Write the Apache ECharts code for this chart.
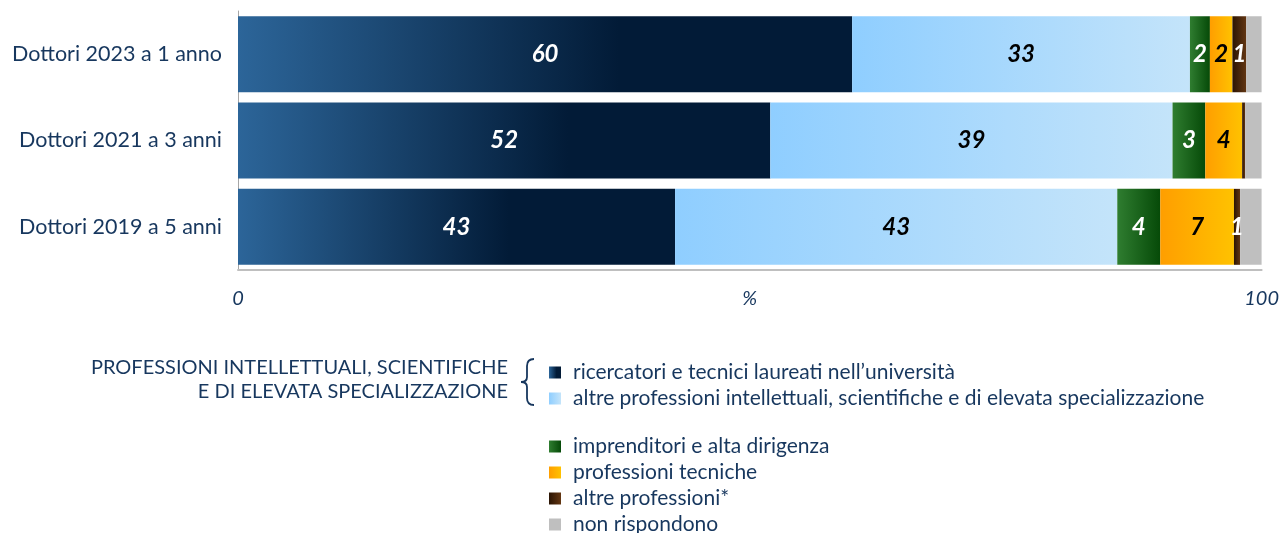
<!DOCTYPE html>
<html>
<head>
<meta charset="utf-8">
<script src="https://cdn.jsdelivr.net/npm/echarts@6/dist/echarts.min.js"></script>
<style>
  html, body { margin: 0; padding: 0; background: #fff; }
  #chart { width: 1282px; height: 533px; }
</style>
</head>
<body>
<div id="chart"></div>
<script>
  // categories, top to bottom
  const categories = ['Dottori 2023 a 1 anno', 'Dottori 2021 a 3 anni', 'Dottori 2019 a 5 anni'];
  // percentages per series
  const ricercatori = [60.0, 52.0, 42.7];
  const altreIntellettuali = [33.0, 39.3, 43.2];
  const imprenditori = [1.95, 3.2, 4.2];
  const tecniche = [2.2, 3.6, 7.2];
  const altreProfessioni = [1.35, 0.3, 0.6];
  const nonRispondono = [1.5, 1.6, 2.1];
  const xTicks = [0, 100];

  const navy = '#17375E';
  const font = 'Lato, "Open Sans", sans-serif';

  const grad = (stops) => new echarts.graphic.LinearGradient(0, 0, 1, 0,
    stops.map((c, i) => typeof c === 'string' ? { offset: i / (stops.length - 1), color: c } : c));

  const labelFmt = p => {
    const r = Math.round(p.value);
    return r >= 1 ? String(r) : '';
  };
  const lab = color => ({
    show: true,
    position: 'inside',
    formatter: labelFmt,
    color: color,
    fontSize: 24,
    fontStyle: 'italic',
    fontWeight: 'bold',
    fontFamily: font
  });

  const series = [
    { name: 'ricercatori e tecnici laureati nell\u2019università', data: ricercatori,
      color: grad([{ offset: 0, color: '#2C6599' }, { offset: 0.62, color: '#021B37' }, { offset: 1, color: '#021B37' }]),
      label: lab('#fff') },
    { name: 'altre professioni intellettuali, scientifiche e di elevata specializzazione', data: altreIntellettuali,
      color: grad(['#8FCEFF', '#C4E4FA']), label: lab('#000') },
    { name: 'imprenditori e alta dirigenza', data: imprenditori,
      color: grad(['#2F7D30', '#064A08']), label: lab('#fff') },
    { name: 'professioni tecniche', data: tecniche,
      color: grad(['#FF9E00', '#FFC200']), label: lab('#000') },
    { name: 'altre professioni*', data: altreProfessioni,
      color: grad(['#2A1404', '#633612']), label: lab('#fff') },
    { name: 'non rispondono', data: nonRispondono,
      color: '#BFBFBF', label: { show: false } }
  ].map(s => Object.assign({
    type: 'bar',
    stack: 'tot',
    barCategoryGap: '12%',
    itemStyle: { color: s.color },
    emphasis: { disabled: true }
  }, s));

  // curly brace next to the group title
  const braceStyle = { fill: 'none', stroke: navy, lineWidth: 1.8 };
  const brace = [
    { type: 'bezierCurve', shape: { x1: 534, y1: 359, cpx1: 527, cpy1: 359, x2: 527, y2: 366 } },
    { type: 'line', shape: { x1: 527, y1: 366, x2: 527, y2: 377 } },
    { type: 'bezierCurve', shape: { x1: 527, y1: 377, cpx1: 527, cpy1: 382, x2: 521, y2: 382 } },
    { type: 'bezierCurve', shape: { x1: 521, y1: 382, cpx1: 527, cpy1: 382, x2: 527, y2: 387 } },
    { type: 'line', shape: { x1: 527, y1: 387, x2: 527, y2: 398 } },
    { type: 'bezierCurve', shape: { x1: 527, y1: 398, cpx1: 527, cpy1: 405, x2: 534, y2: 405 } }
  ].map(g => Object.assign(g, { style: braceStyle, silent: true }));

  const legendBase = {
    orient: 'vertical', left: 544, height: 160,
    icon: 'rect', itemWidth: 12, itemHeight: 12, itemGap: 5,
    selectedMode: false,
    textStyle: { color: navy, fontSize: 21, fontFamily: font, lineHeight: 20, padding: [0, 0, 0, 7] }
  };

  const chart = echarts.init(document.getElementById('chart'));
  chart.setOption({
    animation: false,
    backgroundColor: '#fff',
    grid: { left: 238, right: 19, top: 11, bottom: 263, containLabel: false },
    xAxis: {
      type: 'value',
      min: xTicks[0],
      max: xTicks[1],
      interval: 100,
      name: '%',
      nameLocation: 'middle',
      nameGap: 19,
      nameMoveOverlap: false,
      nameTextStyle: { color: navy, fontSize: 20, fontStyle: 'italic', fontFamily: font, verticalAlign: 'top' },
      axisLine: { show: true, lineStyle: { color: '#BFBFBF', width: 2 } },
      axisTick: { show: false },
      splitLine: { show: false },
      axisLabel: { color: navy, fontSize: 20, fontStyle: 'italic', fontFamily: font, margin: 19 }
    },
    yAxis: {
      type: 'category',
      data: categories,
      inverse: true,
      axisLine: { show: true, lineStyle: { color: '#A6A6A6', width: 1 } },
      axisTick: { show: false },
      axisLabel: { color: navy, fontSize: 21.5, fontFamily: font, margin: 16 }
    },
    legend: [
      Object.assign({ data: [series[0].name, series[1].name], top: 357 }, legendBase),
      Object.assign({ data: [series[2].name, series[3].name, series[4].name, series[5].name], top: 431 }, legendBase)
    ],
    graphic: [
      {
        type: 'text', x: 508, y: 356,
        style: {
          text: 'PROFESSIONI INTELLETTUALI, SCIENTIFICHE\nE DI ELEVATA SPECIALIZZAZIONE',
          fill: navy, font: '20px ' + font, align: 'right', lineHeight: 24
        }
      }
    ].concat(brace),
    series: series
  });
</script>
</body>
</html>
